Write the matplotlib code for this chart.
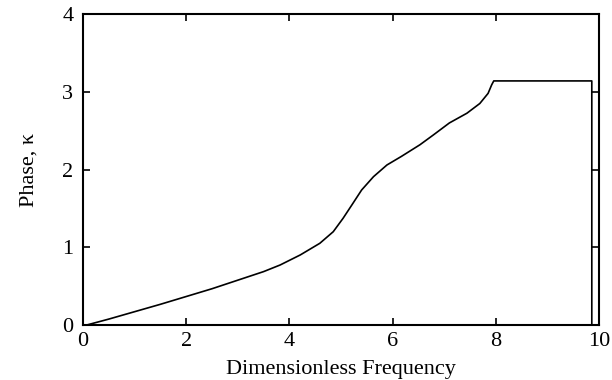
import matplotlib
matplotlib.use("Agg")
import matplotlib.pyplot as plt

# Phase curve
freq = [0.05, 0.5, 1.0, 1.5, 2.0, 2.5, 3.0, 3.5, 3.82, 4.21, 4.59, 4.85, 5.04, 5.21,
        5.40, 5.63, 5.89, 6.17, 6.53, 6.79, 7.1, 7.44, 7.69, 7.85, 7.92, 7.96, 9.86, 9.86]
phase = [0.0, 0.08, 0.175, 0.27, 0.37, 0.47, 0.58, 0.69, 0.775, 0.904, 1.054, 1.203,
         1.375, 1.546, 1.739, 1.91, 2.06, 2.17, 2.32, 2.446, 2.6, 2.725, 2.85, 2.98,
         3.09, 3.14, 3.14, 0.0]

xticks = [0, 2, 4, 6, 8, 10]
yticks = [0, 1, 2, 3, 4]

plt.rcParams['font.family'] = ['Liberation Serif', 'DejaVu Serif']

fig = plt.figure(figsize=(6.12, 3.80), dpi=100)
ax = fig.add_axes([0.1356, 0.1439, 0.8432, 0.8193])
ax.plot(freq, phase, color='black', lw=1.2)
ax.set_xlim(0, 10)
ax.set_ylim(0, 4)
ax.set_xticks(xticks)
ax.set_yticks(yticks)
ax.tick_params(direction='in', top=True, right=True, length=5, width=1.2,
               labelsize=16, colors='black')
ax.tick_params(axis='x', pad=5)
ax.tick_params(axis='y', pad=7)
for s in ax.spines.values():
    s.set_linewidth(1.5)
ax.set_xlabel('Dimensionless Frequency', fontsize=16, labelpad=6)
ax.set_ylabel('Phase, κ', fontsize=16, labelpad=17)
fig.savefig('out.png', dpi=100)
